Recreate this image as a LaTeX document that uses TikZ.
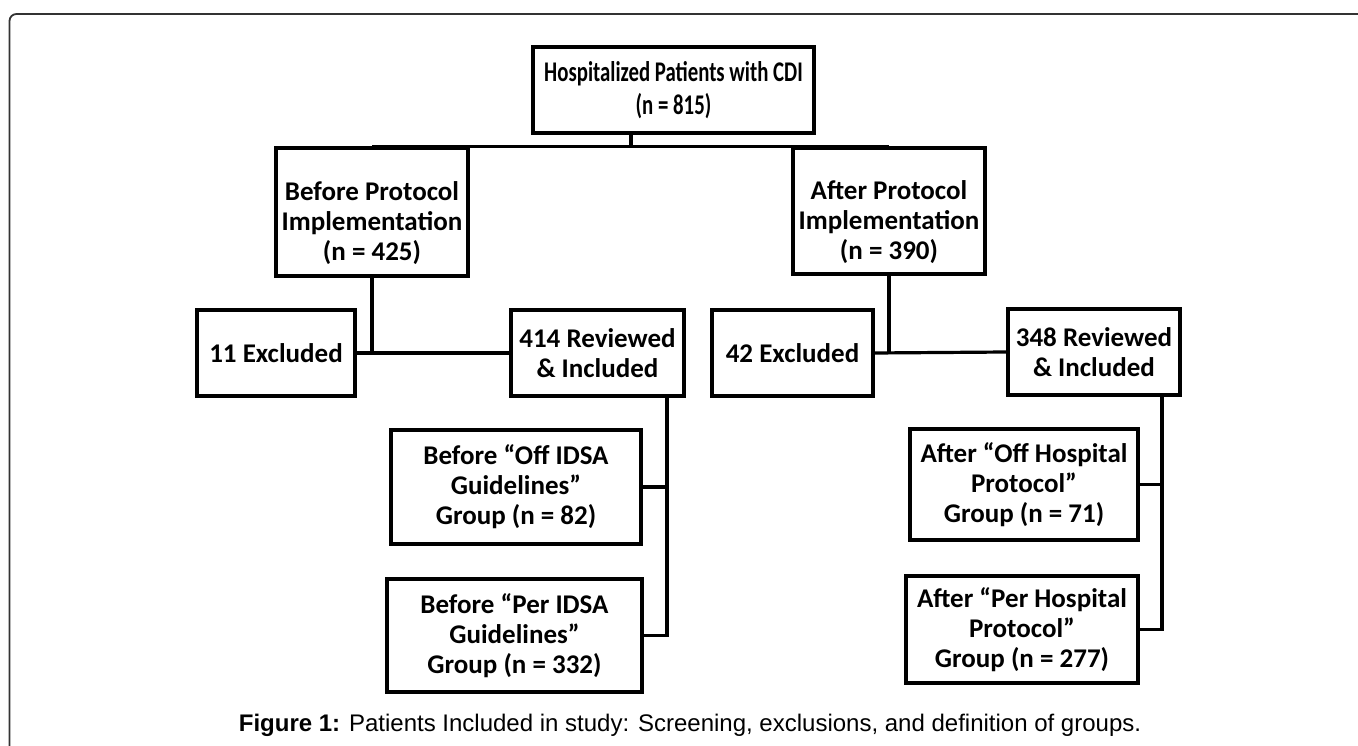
\documentclass[tikz,border=0pt]{standalone}
\usepackage{fontspec}
\setmainfont{Carlito}
\newfontfamily\topfont[FakeStretch=0.73]{Carlito}
\newfontfamily\capfont{Liberation Sans}
\newcommand{\lowtext}[1]{\raisebox{-13pt}[\height][\depth]{\begin{tabular}{@{}c@{}}#1\end{tabular}}}
\begin{document}
\begin{tikzpicture}[x=1pt,y=-1pt,
  box/.style={draw=black,line width=3.6pt,fill=white,align=center,inner sep=0pt,
    font=\fontsize{27}{30}\selectfont\bfseries},
  conn/.style={draw=black,line width=3.2pt}]
\useasboundingbox (0,0) rectangle (1358,746);
% frame
\draw[line width=1.8pt,draw=black!80,rounded corners=7pt] (1362,14) -- (9.5,14) -- (9.5,750);
% nodes
\node[box,minimum width=281pt,minimum height=86pt,font=\topfont\fontsize{28.5}{33}\selectfont\bfseries] (top) at (673.5,90) {Hospitalized Patients with CDI\\(n = 815)};
\node[box,minimum width=192pt,minimum height=128pt] (before) at (372,212) {\lowtext{Before Protocol\\Implementation\\(n = 425)}};
\node[box,minimum width=192pt,minimum height=126pt] (after) at (889,211) {\lowtext{After Protocol\\Implementation\\(n = 390)}};
\node[box,minimum width=158pt,minimum height=86pt] (ex1) at (276,353) {11 Excluded};
\node[box,minimum width=173pt,minimum height=86pt] (rev1) at (597.5,353) {414 Reviewed\\\& Included};
\node[box,minimum width=161pt,minimum height=86pt] (ex2) at (792.5,353) {42 Excluded};
\node[box,minimum width=172pt,minimum height=86pt] (rev2) at (1094,352) {348 Reviewed\\\& Included};
\node[box,minimum width=250pt,minimum height=114pt] (boff) at (516,487) {Before “Off IDSA\\Guidelines”\\Group (n = 82)};
\node[box,minimum width=255pt,minimum height=113pt] (bper) at (514.5,635.5) {Before “Per IDSA\\Guidelines”\\Group (n = 332)};
\node[box,minimum width=228pt,minimum height=111pt] (aoff) at (1024,484.5) {After “Off Hospital\\Protocol”\\Group (n = 71)};
\node[box,minimum width=232pt,minimum height=107pt] (aper) at (1022,629.5) {After “Per Hospital\\Protocol”\\Group (n = 277)};
% junction coordinates
\coordinate (j0) at (631,0);
\coordinate (j1) at (667,0);
\coordinate (j2) at (1162,0);
% connectors
\draw[conn] (top.south -| j0) -- (j0 |- before.north);
\draw[conn] (before.north) -- (after.north);
\draw[conn] (before.south) -- (before.south |- ex1.east);
\draw[conn] (ex1.east) -- (rev1.west);
\draw[conn] (after.south) -- (after.south |- ex2.east);
\draw[conn] (ex2.east) -- (rev2.west);
\draw[conn] (rev1.south -| j1) |- (bper.east);
\draw[conn] (boff.east) -- (boff.east -| j1);
\draw[conn] (rev2.south -| j2) |- (aper.east);
\draw[conn] (aoff.east) -- (aoff.east -| j2);
% caption
\node[inner sep=0pt,anchor=base,font=\capfont\fontsize{24}{28}\selectfont] (cap) at (690,731) {\textbf{Figure 1:} Patients Included in study: Screening, exclusions, and definition of groups.};
\end{tikzpicture}
\end{document}
